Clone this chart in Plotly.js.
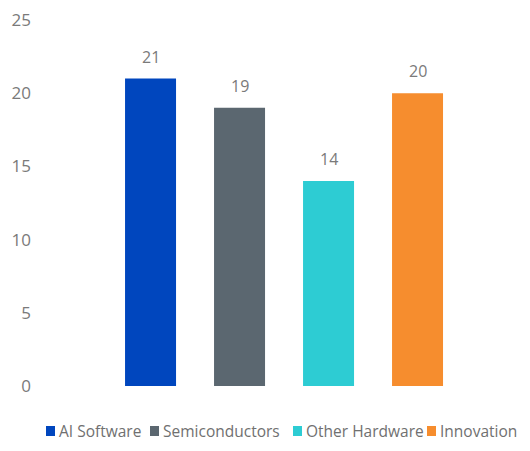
<!DOCTYPE html>
<html><head><meta charset="utf-8">
<script src="https://cdn.plot.ly/plotly-3.0.1.min.js"></script>
<style>body{margin:0;background:#fff}#chart{width:530px;height:451px}</style>
</head><body><div id="chart"></div>
<script>
const categories = ["AI Software", "Semiconductors", "Other Hardware", "Innovation"];
const values = [21, 19, 14, 20];
const colors = ["#0046BE", "#5B6770", "#2DCCD3", "#F68D2E"];
const yTicks = [0, 5, 10, 15, 20, 25];

const FONT = "Open Sans, Noto Sans, sans-serif";
const W = 530, H = 451, M = {l: 36, r: 24, t: 20, b: 65};
const pw = W - M.l - M.r, ph = H - M.t - M.b;
const px2paperX = p => (p - M.l) / pw;
const px2paperY = p => (H - M.b - p) / ph;

const traces = categories.map((c, i) => ({
  type: "bar", name: c, x: [i], y: [values[i]],
  marker: {color: colors[i]}, width: 0.573,
  hoverinfo: "skip"
}));
const annotations = categories.map((c, i) => ({
  x: i, y: values[i], text: String(values[i]), showarrow: false,
  xref: "x", yref: "y", yanchor: "bottom", yshift: 9,
  font: {family: FONT, size: 16, color: "#7a7a7a"}
}));
// legend drawn along the bottom
const legendSquareLeft = [46, 150, 293, 427];
const legendY = 431;
const shapes = [];
categories.forEach((c, i) => {
  shapes.push({type: "rect", xref: "paper", yref: "paper",
    x0: px2paperX(legendSquareLeft[i]), x1: px2paperX(legendSquareLeft[i] + 9),
    y0: px2paperY(legendY + 5), y1: px2paperY(legendY - 5),
    fillcolor: colors[i], line: {width: 0}});
  annotations.push({xref: "paper", yref: "paper", x: px2paperX(legendSquareLeft[i] + 11), y: px2paperY(legendY),
    xanchor: "left", yanchor: "middle", showarrow: false, text: c,
    font: {family: FONT, size: 15.5, color: "#707070"}});
});
const layout = {
  width: W, height: H, margin: M,
  paper_bgcolor: "#fff", plot_bgcolor: "#fff",
  barmode: "overlay", showlegend: false,
  xaxis: {range: [-1.287, 3.994], showticklabels: false, showgrid: false, zeroline: false, showline: false, ticks: ""},
  yaxis: {range: [0, 25], tickvals: yTicks, ticktext: yTicks.map(String), showgrid: false, zeroline: false,
          showline: false, ticks: "", ticklabelstandoff: 4,
          tickfont: {family: FONT, size: 17, color: "#7a7a7a"}},
  annotations: annotations, shapes: shapes
};
Plotly.newPlot("chart", traces, layout, {displayModeBar: false, staticPlot: true});
</script></body></html>
